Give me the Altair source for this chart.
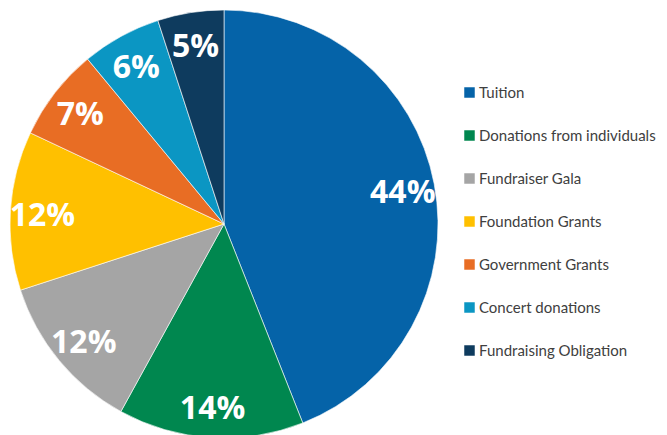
import altair as alt
import pandas as pd

categories = ["Tuition", "Donations from individuals", "Fundraiser Gala",
              "Foundation Grants", "Government Grants", "Concert donations",
              "Fundraising Obligation"]
values = [44, 14, 12, 12, 7, 6, 5]
colors = ["#0563a8", "#00874f", "#a5a5a5", "#ffc000", "#e86d24", "#0b96c3", "#0e3b5e"]

df = pd.DataFrame({
    "category": categories,
    "value": values,
    "idx": list(range(len(categories))),
    "label": [f"{v}%" for v in values],
})

base = alt.Chart(df).encode(
    theta=alt.Theta("value:Q", stack=True),
    order=alt.Order("idx:Q"),
)

pie = base.mark_arc(outerRadius=214, stroke="white", strokeWidth=0.6).encode(
    x=alt.value(216), y=alt.value(216),
    color=alt.Color(
        "category:N",
        scale=alt.Scale(domain=categories, range=colors),
        sort=categories,
        legend=alt.Legend(
            title=None, orient="none", legendX=454, legendY=77,
            symbolType="square", symbolSize=110, symbolStrokeWidth=0,
            labelFont="Lato", labelFontSize=15, labelColor="#404040",
            rowPadding=27, labelOffset=2, labelLimit=300,
        ),
    ),
)

text = base.mark_text(radius=182, font="Open Sans", fontWeight="bold",
                      fontSize=32, color="white", dy=3).encode(
    x=alt.value(216), y=alt.value(216),
    text="label:N",
)

chart = (pie + text).properties(
    width=651, height=427, padding=0,
    autosize=alt.AutoSizeParams(type="none"),
).configure_view(stroke=None)

chart.save("out.html", embed_options={"renderer": "svg", "actions": False})
